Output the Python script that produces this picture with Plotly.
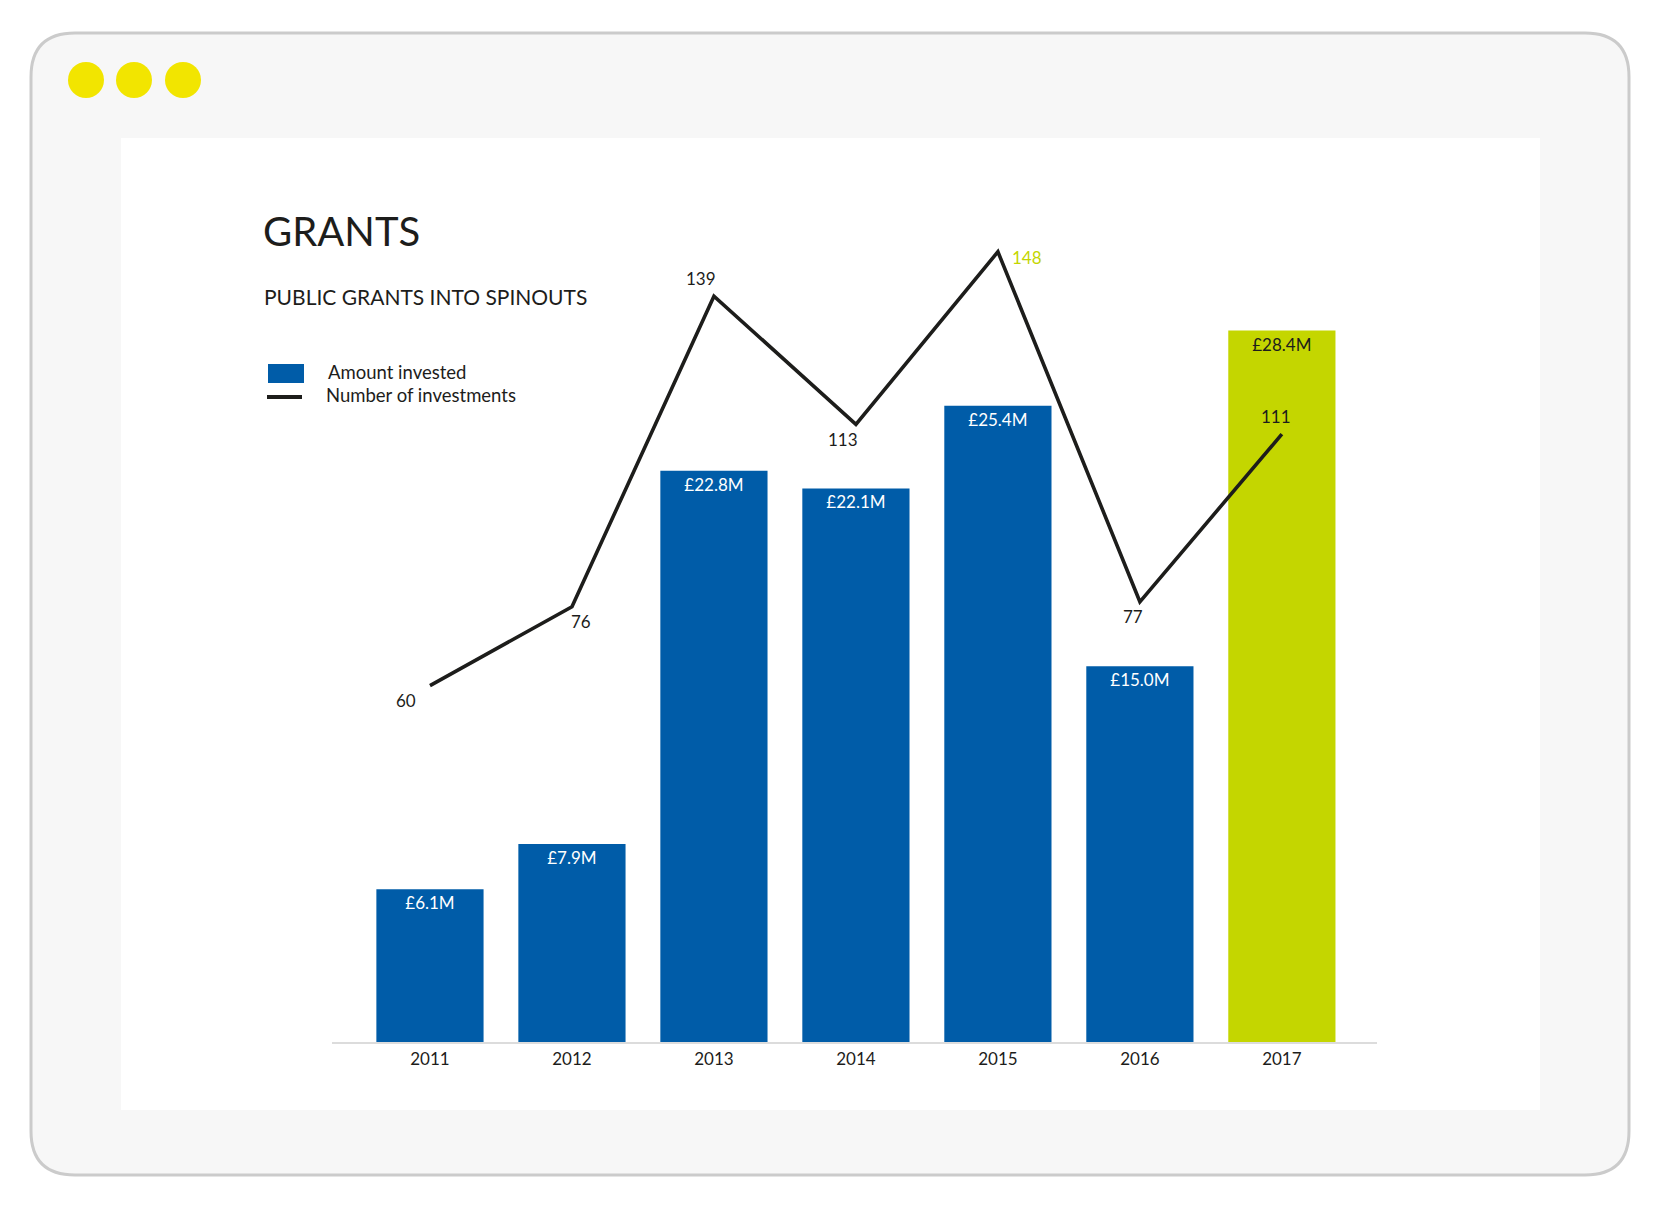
import plotly.graph_objects as go

# data
years = ["2011", "2012", "2013", "2014", "2015", "2016", "2017"]
amount_m = [6.1, 7.9, 22.8, 22.1, 25.4, 15.0, 28.4]
num_investments = [60, 76, 139, 113, 148, 77, 111]
amount_labels = ["£6.1M", "£7.9M", "£22.8M", "£22.1M", "£25.4M", "£15.0M", "£28.4M"]

BLUE = "#005ca8"
GREEN = "#c4d600"
DARK = "#1d1d1b"
FONT = "Lato"

W, H = 1660, 1208


def px(x):
    return x / W


def py(y):
    return 1 - y / H


def rounded_rect(x0, y0, x1, y1, r):
    # svg path in paper units for a rounded box (pixel input)
    pts = [
        f"M {px(x0 + r)} {py(y0)}",
        f"L {px(x1 - r)} {py(y0)}",
        f"Q {px(x1)} {py(y0)} {px(x1)} {py(y0 + r)}",
        f"L {px(x1)} {py(y1 - r)}",
        f"Q {px(x1)} {py(y1)} {px(x1 - r)} {py(y1)}",
        f"L {px(x0 + r)} {py(y1)}",
        f"Q {px(x0)} {py(y1)} {px(x0)} {py(y1 - r)}",
        f"L {px(x0)} {py(y0 + r)}",
        f"Q {px(x0)} {py(y0)} {px(x0 + r)} {py(y0)}",
        "Z",
    ]
    return " ".join(pts)


bar_colors = [BLUE] * 6 + [GREEN]
bar_text_colors = ["white"] * 6 + [DARK]

fig = go.Figure()

fig.add_trace(go.Bar(
    x=years,
    y=amount_m,
    marker=dict(color=bar_colors, line=dict(width=0)),
    text=amount_labels,
    textposition="inside",
    insidetextanchor="end",
    textangle=0,
    constraintext="none",
    textfont=dict(family=FONT, size=17, color=bar_text_colors),
    cliponaxis=False,
    hoverinfo="skip",
    yaxis="y",
))

fig.add_trace(go.Scatter(
    x=years,
    y=num_investments,
    mode="lines",
    line=dict(color=DARK, width=3.6),
    hoverinfo="skip",
    yaxis="y2",
    cliponaxis=False,
))

# labels next to the line points (x given as category index)
label_shift = [(-24, -15), (9, -15), (-13, 18), (-13, -15), (29, -6), (-7, -15), (-6, 18)]
label_colors = [DARK, DARK, DARK, DARK, GREEN, DARK, DARK]
annotations = []
for i, (n, (dx, dy), c) in enumerate(zip(num_investments, label_shift, label_colors)):
    annotations.append(dict(
        x=i, y=n, xref="x", yref="y2", text=str(n), showarrow=False,
        xshift=dx, yshift=dy, font=dict(family=FONT, size=17, color=c),
    ))

# titles
annotations.append(dict(
    x=px(261), y=py(231), xref="paper", yref="paper", text="GRANTS",
    showarrow=False, xanchor="left", yanchor="middle",
    font=dict(family=FONT, size=40, color=DARK),
))
annotations.append(dict(
    x=px(262), y=py(296), xref="paper", yref="paper", text="PUBLIC GRANTS INTO SPINOUTS",
    showarrow=False, xanchor="left", yanchor="middle",
    font=dict(family=FONT, size=21, color=DARK),
))
# legend text
annotations.append(dict(
    x=px(326), y=py(372), xref="paper", yref="paper", text="Amount invested",
    showarrow=False, xanchor="left", yanchor="middle",
    font=dict(family=FONT, size=18.5, color=DARK),
))
annotations.append(dict(
    x=px(324), y=py(395), xref="paper", yref="paper", text="Number of investments",
    showarrow=False, xanchor="left", yanchor="middle",
    font=dict(family=FONT, size=18.5, color=DARK),
))

shapes = [
    # outer window frame
    dict(type="path", xref="paper", yref="paper", path=rounded_rect(31, 33, 1629, 1175, 44),
         fillcolor="#f7f7f7", line=dict(color="#cbcbcb", width=3), layer="below"),
    # white panel
    dict(type="rect", xref="paper", yref="paper", x0=px(121), x1=px(1540), y0=py(138), y1=py(1110),
         fillcolor="white", line=dict(width=0), layer="below"),
    # legend symbols
    dict(type="rect", xref="paper", yref="paper", x0=px(268), x1=px(304), y0=py(364), y1=py(383),
         fillcolor=BLUE, line=dict(width=0)),
    dict(type="line", xref="paper", yref="paper", x0=px(267), x1=px(302), y0=py(397), y1=py(397),
         line=dict(color=DARK, width=4)),
]
# window dots
for cx in [86, 134, 183]:
    shapes.append(dict(type="circle", xref="paper", yref="paper",
                       x0=px(cx - 18), x1=px(cx + 18), y0=py(62), y1=py(98),
                       fillcolor="#f2e500", line=dict(width=0)))

plot_left, plot_right, plot_top, plot_bottom = 332, 1377, 200, 1042
bar_scale = 25.05   # px per £M
line_scale = 4.93   # px per investment
line_zero = 981.4   # pixel y of zero investments

fig.update_layout(
    width=W, height=H,
    margin=dict(l=0, r=0, t=0, b=0),
    paper_bgcolor="white",
    plot_bgcolor="rgba(0,0,0,0)",
    showlegend=False,
    bargap=0.245,
    font=dict(family=FONT, color=DARK),
    xaxis=dict(
        type="category",
        domain=[px(plot_left), px(plot_right)],
        range=[-0.69, 6.67],
        showline=True, linecolor="#dcdcdc", linewidth=2,
        showgrid=False, zeroline=False,
        ticks="", ticklabelstandoff=1,
        tickfont=dict(family=FONT, size=17, color=DARK),
    ),
    yaxis=dict(
        domain=[py(plot_bottom), py(plot_top)],
        range=[0, (plot_bottom - plot_top) / bar_scale],
        visible=False,
    ),
    yaxis2=dict(
        overlaying="y",
        range=[-(plot_bottom - line_zero) / line_scale, (line_zero - plot_top) / line_scale],
        visible=False,
    ),
    shapes=shapes,
    annotations=annotations,
)

fig.write_html("out.html", config={"displayModeBar": False},
               post_script="document.body.style.margin='0';")
